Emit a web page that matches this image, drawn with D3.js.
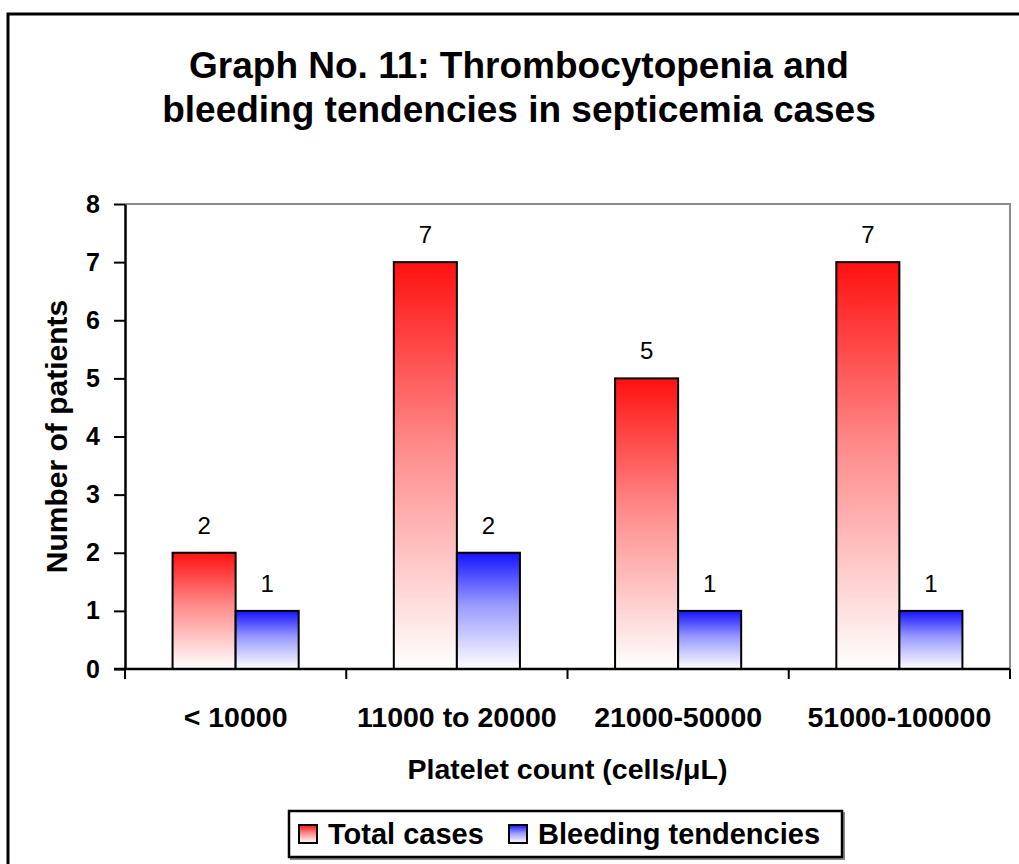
<!DOCTYPE html>
<meta charset="utf-8">
<script src="https://d3js.org/d3.v7.min.js"></script>
<style>
  body { margin: 0; background: #fff; }
  text { font-family: "Liberation Sans", Arial, sans-serif; }
</style>
<div id="chart"></div>
<script>

var categories = ["< 10000", "11000 to 20000", "21000-50000", "51000-100000"];
var seriesNames = ["Total cases", "Bleeding tendencies"];
var totalCases = [2, 7, 5, 7];
var bleeding = [1, 2, 1, 1];
var yTicks = [0, 1, 2, 3, 4, 5, 6, 7, 8];

var W = 1019, H = 864;
var plot = {left: 125, right: 1010, top: 204, bottom: 669};

var svg = d3.select("#chart").append("svg")
    .attr("width", W)
    .attr("height", H);

// gradients, strong colour at top fading to white at the bottom
var defs = svg.append("defs");
var grads = [
  {id: "gRed", top: "#ff1010", mid: "#ff8a8a"},
  {id: "gBlue", top: "#1414ff", mid: "#9a9aff"}
];
grads.forEach(function(g) {
  var lg = defs.append("linearGradient")
      .attr("id", g.id)
      .attr("x1", 0).attr("y1", 0).attr("x2", 0).attr("y2", 1);
  lg.append("stop").attr("offset", "0%").attr("stop-color", g.top);
  lg.append("stop").attr("offset", "45%").attr("stop-color", g.mid);
  lg.append("stop").attr("offset", "100%").attr("stop-color", "#ffffff");
});
var fills = ["url(#gRed)", "url(#gBlue)"];

// outer frame
svg.append("rect")
    .attr("x", 8).attr("y", 14)
    .attr("width", 1040).attr("height", 900)
    .attr("fill", "#fff")
    .attr("stroke", "#000")
    .attr("stroke-width", 3);

// title
var title = svg.append("text")
    .attr("text-anchor", "middle")
    .style("font-weight", "bold")
    .style("font-size", "37px");
title.append("tspan").attr("x", 519).attr("y", 78).text("Graph No. 11: Thrombocytopenia and");
title.append("tspan").attr("x", 519).attr("y", 122).text("bleeding tendencies in septicemia cases");

var x0 = d3.scaleBand()
    .domain(categories)
    .range([plot.left, plot.right])
    .paddingInner(0.43)
    .paddingOuter(0.215);

var x1 = d3.scaleBand()
    .domain(seriesNames)
    .range([0, x0.bandwidth()]);

var y = d3.scaleLinear()
    .domain([0, 8])
    .range([plot.bottom, plot.top]);

// plot area border (top & right in grey)
svg.append("path")
    .attr("d", "M" + plot.left + "," + plot.top + "H" + plot.right + "V" + plot.bottom)
    .attr("fill", "none")
    .attr("stroke", "#8c8c8c")
    .attr("stroke-width", 2);

var rows = categories.map(function(c, i) {
  return {cat: c, values: [totalCases[i], bleeding[i]]};
});

var groups = svg.append("g").selectAll("g")
    .data(rows)
    .enter().append("g")
    .attr("transform", function(d) { return "translate(" + x0(d.cat) + ",0)"; });

groups.selectAll("rect")
    .data(function(d) { return d.values.map(function(v, j) { return {name: seriesNames[j], v: v, j: j}; }); })
    .enter().append("rect")
    .attr("x", function(d) { return x1(d.name); })
    .attr("y", function(d) { return y(d.v); })
    .attr("width", x1.bandwidth())
    .attr("height", function(d) { return y(0) - y(d.v); })
    .attr("fill", function(d) { return fills[d.j]; })
    .attr("stroke", "#000")
    .attr("stroke-width", 2);

groups.selectAll("text.val")
    .data(function(d) { return d.values.map(function(v, j) { return {name: seriesNames[j], v: v}; }); })
    .enter().append("text")
    .attr("class", "val")
    .attr("x", function(d) { return x1(d.name) + x1.bandwidth() / 2; })
    .attr("y", function(d) { return y(d.v) - 19; })
    .attr("text-anchor", "middle")
    .style("font-size", "24px")
    .text(function(d) { return d.v; });

// y axis
var yAxis = svg.append("g")
    .attr("transform", "translate(" + plot.left + ",0)")
    .call(d3.axisLeft(y).tickValues(yTicks).tickSize(11).tickPadding(14).tickSizeOuter(0));
yAxis.select(".domain").attr("stroke", "#000").attr("stroke-width", 2.5);
yAxis.selectAll(".tick line").attr("stroke", "#000").attr("stroke-width", 2);
yAxis.selectAll(".tick text")
    .style("font-family", "Liberation Sans, Arial, sans-serif")
    .style("font-weight", "bold")
    .style("font-size", "25px")
    .attr("fill", "#000");

// x axis with ticks at band boundaries
var xAxisG = svg.append("g");
xAxisG.append("line")
    .attr("x1", plot.left - 11).attr("x2", plot.right)
    .attr("y1", plot.bottom).attr("y2", plot.bottom)
    .attr("stroke", "#000").attr("stroke-width", 2.5);
var bounds = categories.map(function(c) { return x0(c) - x0.step() * x0.paddingInner() / 2; });
bounds.push(plot.right);
xAxisG.selectAll("line.xt")
    .data(bounds)
    .enter().append("line")
    .attr("class", "xt")
    .attr("x1", function(d) { return d; }).attr("x2", function(d) { return d; })
    .attr("y1", plot.bottom).attr("y2", plot.bottom + 10)
    .attr("stroke", "#000").attr("stroke-width", 2);
xAxisG.selectAll("text")
    .data(categories)
    .enter().append("text")
    .attr("x", function(d) { return x0(d) + x0.bandwidth() / 2; })
    .attr("y", 727)
    .attr("text-anchor", "middle")
    .style("font-weight", "bold")
    .style("font-size", "28.5px")
    .text(function(d) { return d; });

// axis titles
svg.append("text")
    .attr("x", (plot.left + plot.right) / 2)
    .attr("y", 779)
    .attr("text-anchor", "middle")
    .style("font-weight", "bold")
    .style("font-size", "28.5px")
    .text("Platelet count (cells/μL)");

svg.append("text")
    .attr("transform", "translate(67," + ((plot.top + plot.bottom) / 2) + ") rotate(-90)")
    .attr("text-anchor", "middle")
    .style("font-weight", "bold")
    .style("font-size", "30px")
    .text("Number of patients");

// legend
var lg = svg.append("g");
lg.append("rect")
    .attr("x", 291).attr("y", 813)
    .attr("width", 553).attr("height", 46)
    .attr("fill", "none")
    .attr("stroke", "#888")
    .attr("stroke-width", 2);
lg.append("rect")
    .attr("x", 289).attr("y", 811)
    .attr("width", 553).attr("height", 46)
    .attr("fill", "#fff")
    .attr("stroke", "#000")
    .attr("stroke-width", 2.5);
var legendX = [299, 509];
var items = lg.selectAll("g.item")
    .data(seriesNames)
    .enter().append("g")
    .attr("class", "item")
    .attr("transform", function(d, i) { return "translate(" + legendX[i] + ",825)"; });
items.append("rect")
    .attr("width", 18).attr("height", 18)
    .attr("fill", function(d, i) { return fills[i]; })
    .attr("stroke", "#000")
    .attr("stroke-width", 2);
items.append("text")
    .attr("x", 29).attr("y", 19)
    .style("font-weight", "bold")
    .style("font-size", "29px")
    .text(function(d) { return d; });

</script>
